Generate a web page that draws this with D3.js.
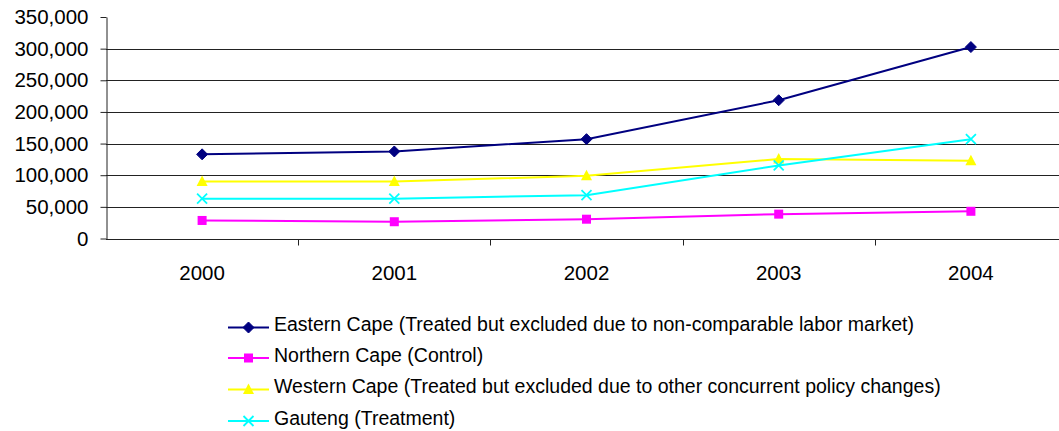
<!DOCTYPE html>
<html>
<head>
<meta charset="utf-8">
<script src="https://cdn.jsdelivr.net/npm/d3@7"></script>
<style>
  html, body { margin: 0; padding: 0; background: #fff; }
  svg { display: block; font-family: "Liberation Sans", Arial, sans-serif; }
</style>
</head>
<body>
<svg id="chart" width="1059" height="431"></svg>
<script>
// Annual values by province, 2000–2004
const years = ["2000", "2001", "2002", "2003", "2004"];
const easternCape  = [133000, 137500, 157000, 218500, 302500];
const northernCape = [28500, 26500, 30500, 38500, 43000];
const westernCape  = [90000, 90000, 99000, 125500, 123000];
const gauteng      = [63000, 63000, 68500, 115500, 157000];
const yTicks = [0, 50000, 100000, 150000, 200000, 250000, 300000, 350000];

const seriesNames = [
  "Eastern Cape (Treated but excluded due to non-comparable labor market)",
  "Northern Cape (Control)",
  "Western Cape (Treated but excluded due to other concurrent policy changes)",
  "Gauteng (Treatment)"
];
const seriesValues = [easternCape, northernCape, westernCape, gauteng];
const seriesColors = ["#000080", "#ff00ff", "#ffff00", "#00ffff"];
const seriesMarkers = ["diamond", "square", "triangle", "cross"];

const svg = d3.select("#chart");

const plot = { left: 106, top: 17, bottom: 238.5, bandWidth: 192.2 };
const x = d3.scaleBand()
  .domain(years)
  .range([plot.left, plot.left + plot.bandWidth * years.length])
  .padding(0);
const y = d3.scaleLinear().domain([0, 350000]).range([plot.bottom, plot.top]);
const cx = d => x(d) + x.bandwidth() / 2;

// Horizontal gridlines
svg.append("g")
  .selectAll("line")
  .data(yTicks.filter(t => t > 0 && t < 350000))
  .join("line")
  .attr("x1", plot.left).attr("x2", 1059)
  .attr("y1", d => Math.round(y(d)) + 0.5).attr("y2", d => Math.round(y(d)) + 0.5)
  .attr("stroke", "#222").attr("stroke-width", 1);

// Y axis
const yAxis = svg.append("g")
  .attr("transform", `translate(${plot.left + 0.5},0)`)
  .call(d3.axisLeft(y).tickValues(yTicks).tickSize(6).tickSizeOuter(0)
    .tickFormat(d3.format(",")));
yAxis.select(".domain").attr("stroke", "#222");
yAxis.selectAll(".tick line").attr("stroke", "#222");
yAxis.selectAll(".tick text")
  .attr("x", -18)
  .attr("font-size", 20.5)
  .attr("font-family", "Liberation Sans, Arial, sans-serif")
  .attr("fill", "#000");

// X axis line with ticks between categories
const xAxisY = Math.round(plot.bottom) + 0.5;
svg.append("line")
  .attr("x1", plot.left).attr("x2", 1059)
  .attr("y1", xAxisY).attr("y2", xAxisY)
  .attr("stroke", "#222");
svg.append("g")
  .selectAll("line")
  .data(years.slice(1))
  .join("line")
  .attr("x1", d => Math.round(x(d)) + 0.5).attr("x2", d => Math.round(x(d)) + 0.5)
  .attr("y1", xAxisY).attr("y2", xAxisY + 6)
  .attr("stroke", "#222");
svg.append("g")
  .selectAll("text")
  .data(years)
  .join("text")
  .attr("x", d => cx(d))
  .attr("y", 280)
  .attr("text-anchor", "middle")
  .attr("font-size", 20.5)
  .attr("fill", "#000")
  .text(d => d);

// Marker shapes
function drawMarker(g, type, color, px, py) {
  if (type === "diamond") {
    g.append("path")
      .attr("d", `M${px},${py - 5.5}L${px + 5.5},${py}L${px},${py + 5.5}L${px - 5.5},${py}Z`)
      .attr("fill", color).attr("stroke", color);
  } else if (type === "square") {
    g.append("rect")
      .attr("x", px - 4.5).attr("y", py - 4.5).attr("width", 9).attr("height", 9)
      .attr("fill", color);
  } else if (type === "triangle") {
    g.append("path")
      .attr("d", `M${px},${py - 6}L${px + 5.5},${py + 4.5}L${px - 5.5},${py + 4.5}Z`)
      .attr("fill", color);
  } else {
    g.append("path")
      .attr("d", `M${px - 5},${py - 5}L${px + 5},${py + 5}M${px - 5},${py + 5}L${px + 5},${py - 5}`)
      .attr("stroke", color).attr("stroke-width", 1.8).attr("fill", "none");
  }
}

// Series lines and markers
const line = d3.line().x((v, i) => cx(years[i])).y(v => y(v));
seriesValues.forEach((vals, s) => {
  const g = svg.append("g");
  g.append("path")
    .attr("d", line(vals))
    .attr("fill", "none")
    .attr("stroke", seriesColors[s])
    .attr("stroke-width", 2);
  vals.forEach((v, i) => drawMarker(g, seriesMarkers[s], seriesColors[s], cx(years[i]), y(v)));
});

// Legend
const legendRowY = [327.5, 358, 389.5, 421];
const legend = svg.append("g");
seriesNames.forEach((name, s) => {
  const ly = legendRowY[s];
  legend.append("line")
    .attr("x1", 228).attr("x2", 269)
    .attr("y1", ly).attr("y2", ly)
    .attr("stroke", seriesColors[s]).attr("stroke-width", 2);
  drawMarker(legend, seriesMarkers[s], seriesColors[s], 248.5, ly);
  legend.append("text")
    .attr("x", 274)
    .attr("y", ly + 3.5)
    .attr("font-size", 19.5)
    .attr("fill", "#000")
    .text(name);
});
</script>
</body>
</html>
